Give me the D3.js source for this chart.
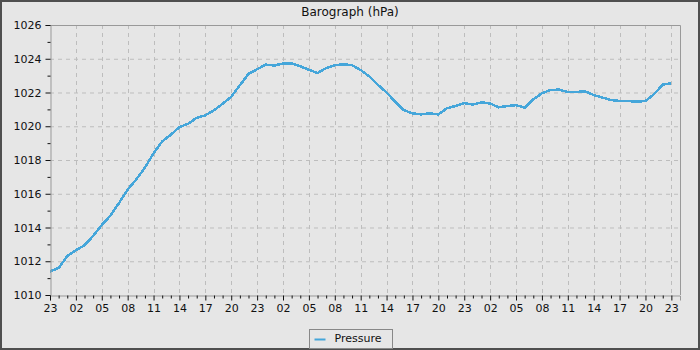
<!DOCTYPE html>
<html>
<head>
<meta charset="utf-8">
<script src="https://cdn.jsdelivr.net/npm/d3@7"></script>
<style>
  body { margin: 0; background: #e6e6e6; }
  svg { display: block; font-family: "DejaVu Sans", sans-serif; }
</style>
</head>
<body>
<div id="chart"></div>
<script>
// Pressure readings, one per hour, starting at 23:00
const startHour = 23;
const hours = d3.range(0, 73);
const pressure = [
  1011.4, 1011.6, 1012.3, 1012.65, 1012.95, 1013.5, 1014.15, 1014.7, 1015.45, 1016.25,
  1016.85, 1017.55, 1018.4, 1019.1, 1019.5, 1019.95, 1020.15, 1020.5, 1020.65, 1020.95,
  1021.33, 1021.75, 1022.43, 1023.1, 1023.38, 1023.65, 1023.6, 1023.72, 1023.73, 1023.55,
  1023.35, 1023.15, 1023.45, 1023.62, 1023.67, 1023.62, 1023.33, 1022.95, 1022.45, 1022.0,
  1021.45, 1020.95, 1020.77, 1020.7, 1020.77, 1020.7, 1021.07, 1021.2, 1021.37, 1021.28,
  1021.42, 1021.35, 1021.12, 1021.2, 1021.25, 1021.1, 1021.6, 1021.95, 1022.15, 1022.17,
  1022.03, 1022.03, 1022.07, 1021.85, 1021.7, 1021.55, 1021.5, 1021.5, 1021.45, 1021.5,
  1021.9, 1022.47, 1022.55
];
const yTicks = [1010, 1012, 1014, 1016, 1018, 1020, 1022, 1024, 1026];
const xTicks = d3.range(0, 73, 3);
const seriesName = "Pressure";
const title = "Barograph (hPa)";

const W = 700, H = 350;
const margin = {top: 25, right: 20, bottom: 55, left: 50},
    width = W - margin.left - margin.right,
    height = H - margin.top - margin.bottom;

const x = d3.scaleLinear().domain([0, 73]).range([0, width]);
const y = d3.scaleLinear().domain([1010, 1026]).range([height, 0]);

const svg = d3.select("#chart").append("svg")
    .attr("width", W)
    .attr("height", H);

// background and outer frame
svg.append("rect")
    .attr("x", 1).attr("y", 1)
    .attr("width", W - 2).attr("height", H - 2)
    .attr("fill", "#e6e6e6")
    .attr("stroke", "#4f4f4f")
    .attr("stroke-width", 2);

svg.append("text")
    .attr("x", W / 2)
    .attr("y", 16)
    .attr("text-anchor", "middle")
    .attr("font-size", 12)
    .attr("fill", "#111")
    .text(title);

const g = svg.append("g")
    .attr("transform", "translate(" + margin.left + "," + margin.top + ")");

// grid
g.append("g")
    .selectAll("line")
    .data(yTicks.slice(1, -1))
    .enter().append("line")
    .attr("x1", 0).attr("x2", width)
    .attr("y1", d => y(d) + 0.5).attr("y2", d => y(d) + 0.5)
    .attr("stroke", "#bdbdbd")
    .attr("stroke-dasharray", "4,4");

g.append("g")
    .selectAll("line")
    .data(xTicks.slice(1))
    .enter().append("line")
    .attr("x1", d => Math.round(x(d)) + 0.5).attr("x2", d => Math.round(x(d)) + 0.5)
    .attr("y1", 0).attr("y2", height)
    .attr("stroke", "#bdbdbd")
    .attr("stroke-dasharray", "4,4");

// plot frame (top, right)
g.append("path")
    .attr("d", "M0.5,0.5H" + (width + 0.5) + "V" + height)
    .attr("fill", "none")
    .attr("stroke", "#999");

// line
const line = d3.line()
    .x((d, i) => x(hours[i]))
    .y(d => y(d));

g.append("path")
    .datum(pressure)
    .attr("d", line)
    .attr("fill", "none")
    .attr("stroke", "#45a6da")
    .attr("stroke-width", 2.5)
    .attr("shape-rendering", "crispEdges");

// y axis
const yAxis = g.append("g")
    .attr("transform", "translate(0.5,0)")
    .call(d3.axisLeft(y).tickValues(yTicks).tickSize(5).tickFormat(d3.format("d")));
g.append("g")
    .attr("transform", "translate(0.5,0)")
    .call(d3.axisLeft(y).tickValues(d3.range(1011, 1026, 2)).tickSize(3).tickFormat(""))
    .select(".domain").remove();

// x axis
const xAxis = g.append("g")
    .attr("transform", "translate(0," + (height + 0.5) + ")")
    .call(d3.axisBottom(x).tickValues(xTicks).tickSize(5)
        .tickFormat(d => d3.format("02d")((startHour + d) % 24)));
g.append("g")
    .attr("transform", "translate(0," + (height + 0.5) + ")")
    .call(d3.axisBottom(x).tickValues(d3.range(0, 73).filter(d => d % 3 !== 0)).tickSize(3).tickFormat(""))
    .select(".domain").remove();

g.selectAll(".domain").attr("stroke", "#999").attr("stroke-width", 1);
g.selectAll(".tick line").attr("stroke", "#111");
g.selectAll(".tick text")
    .attr("font-family", "DejaVu Sans, sans-serif")
    .attr("font-size", 11)
    .attr("fill", "#111");
yAxis.selectAll(".tick text").attr("x", -9);
xAxis.selectAll(".tick text").attr("y", 9);

// legend
const legend = svg.append("g")
    .attr("transform", "translate(309.5,329.5)");
legend.append("rect")
    .attr("width", 83).attr("height", 19)
    .attr("fill", "#e6e6e6")
    .attr("stroke", "#888");
legend.append("line")
    .attr("x1", 5).attr("x2", 16)
    .attr("y1", 10).attr("y2", 10)
    .attr("stroke", "#45a6da")
    .attr("stroke-width", 2);
legend.append("text")
    .attr("x", 25).attr("y", 12)
    .attr("font-size", 11)
    .attr("fill", "#111")
    .text(seriesName);
</script>
</body>
</html>
